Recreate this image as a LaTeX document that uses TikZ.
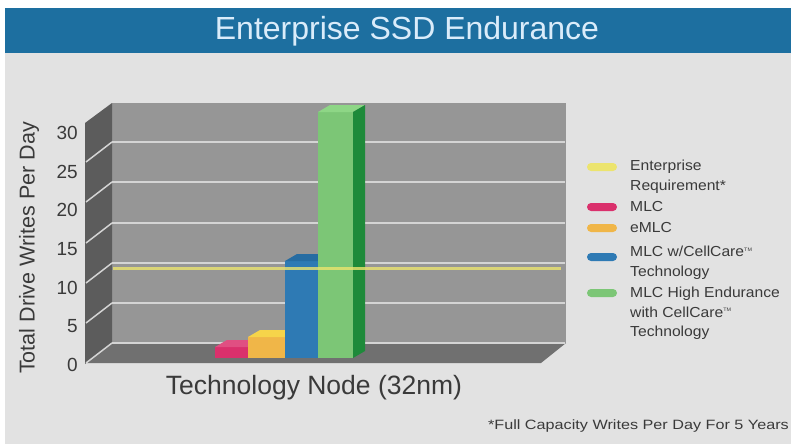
\documentclass[tikz,border=0pt]{standalone}
\usepackage{fontspec}
\setmainfont{Liberation Sans}
\newfontfamily\legendfont[FakeStretch=1.08]{Liberation Sans}
\newfontfamily\notefont[FakeStretch=1.2]{Liberation Sans}
\usetikzlibrary{positioning}
\definecolor{colbar}{RGB}{29,111,160}
\definecolor{coltitle}{RGB}{218,236,250}
\definecolor{colback}{RGB}{226,226,226}
\definecolor{colwall}{RGB}{150,150,150}
\definecolor{colleft}{RGB}{92,92,92}
\definecolor{colfloor}{RGB}{112,112,112}
\definecolor{colgrid}{RGB}{212,212,212}
\definecolor{colreq}{RGB}{236,228,110}
\definecolor{colmlc}{RGB}{218,48,108}
\definecolor{colemlc}{RGB}{240,182,72}
\definecolor{colemlctop}{RGB}{246,212,74}
\definecolor{colcell}{RGB}{46,122,180}
\definecolor{colcelltop}{RGB}{38,108,162}
\definecolor{colhigh}{RGB}{124,198,118}
\definecolor{colhightop}{RGB}{142,214,134}
\definecolor{colhighside}{RGB}{30,138,58}
\definecolor{coltext}{RGB}{58,58,58}
\tikzset{%
     gridline/.style = { colgrid, line width=2pt },
     walledge/.style = { line join=round },
     ticklabel/.style = { anchor=east, inner sep=0pt, font=\fontsize{19}{19}\selectfont, coltext },
       swatch/.style = { rounded corners=4pt },
     legtext/.style = { anchor=north west, inner sep=0pt, align=left, coltext,
                        font=\legendfont\fontsize{14.5}{19.5}\selectfont }
}
\begin{document}
\begin{tikzpicture}[x=1pt, y=-1pt]

  % page and title bar
  \fill[white] (0,0) rectangle (791,444);
  \fill[colback] (5,53) rectangle (791,444);
  \fill[colbar] (5,8) rectangle (791,53);
  \node[coltitle, font=\fontsize{32}{32}\selectfont] (title) at (407,31) {Enterprise SSD Endurance};

  % chart box
  \fill[colwall] (112,103) rectangle (566,343);
  \fill[colleft, walledge] (112,103) -- (85,123) -- (85,364) -- (112,343) -- cycle;
  \fill[colfloor, walledge] (112,343) -- (566,343) -- (541,363) -- (87,363) -- cycle;
  \foreach \y in {142,182,223,263,303,343} {
    \draw[gridline] (112,\y) -- (565,\y);
    \draw[gridline, line width=1.5pt] (112,\y) -- (86,\y+20);
  }

  % tick labels
  \foreach \v [count=\i from 0] in {0,5,...,30}
    \node[ticklabel] (tick\v) at (78,365-\i*38.67) {\v};

  % bars
  \fill[colmlc] (215,347) rectangle (248,358);
  \fill[colmlc!85!white] (215,347) -- (227,340) -- (260,340) -- (248,347) -- cycle;
  \fill[colemlc] (248,337) rectangle (285,358);
  \fill[colemlctop] (248,337) -- (260,330) -- (297,330) -- (285,337) -- cycle;
  \fill[colcell] (285,261) rectangle (318,358);
  \fill[colcelltop] (285,261) -- (297,254) -- (330,254) -- (318,261) -- cycle;
  \fill[colhigh] (318,112) rectangle (353,358);
  \fill[colhightop] (318,112) -- (330,105) -- (365,105) -- (353,112) -- cycle;
  \fill[colhighside] (353,112) -- (365,105) -- (365,351) -- (353,358) -- cycle;

  % enterprise requirement
  \draw[colreq, line width=3pt, opacity=.8] (113,268) -- (561,268);

  % axis titles
  \node[rotate=90, coltext, font=\fontsize{21.5}{21.5}\selectfont] (ytitle) at (29,248) {Total Drive Writes Per Day};
  \node[coltext, font=\fontsize{26.5}{26.5}\selectfont] (xtitle) at (314,388) {Technology Node (32nm)};

  % legend
  \fill[swatch, colreq]  (587,163) rectangle (617,171);
  \fill[swatch, colmlc]  (587,203) rectangle (617,211);
  \fill[swatch, colemlc] (587,224) rectangle (617,232);
  \fill[swatch, colcell] (587,253) rectangle (617,261);
  \fill[swatch, colhigh] (587,289) rectangle (617,297);
  \node[legtext] (legreq)  at (630,160) {Enterprise\\Requirement*};
  \node[legtext] (legmlc)  at (630,201) {MLC};
  \node[legtext] (legemlc) at (630,222) {eMLC};
  \node[legtext] (legcell) at (630,246) {MLC w/CellCare\textsuperscript{\tiny TM}\\Technology};
  \node[legtext] (leghigh) at (630,287) {MLC High Endurance\\with CellCare\textsuperscript{\tiny TM}\\Technology};

  % footnote
  \node[anchor=base east, inner sep=0pt, coltext, font=\notefont\fontsize{13.5}{13.5}\selectfont] (note) at (789,429) {*Full Capacity Writes Per Day For 5 Years};

\end{tikzpicture}
\end{document}
